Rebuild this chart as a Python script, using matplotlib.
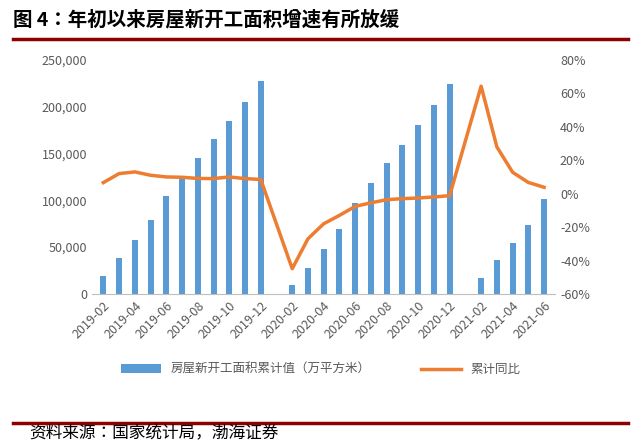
import matplotlib
matplotlib.use("Agg")
import matplotlib.pyplot as plt
from matplotlib import font_manager as fm
import numpy as np
from matplotlib.ticker import FuncFormatter

cjk = [f.name for f in fm.fontManager.ttflist if "CJK" in f.name]
pref = [n for n in cjk if n.endswith("SC")] or cjk
plt.rcParams["font.family"] = (pref[:1] if pref else []) + ["DejaVu Sans"]
plt.rcParams["axes.unicode_minus"] = False

months = [f"{y}-{m:02d}" for y in (2019, 2020, 2021) for m in range(1, 13)][1:30]
area = [19000, 38000, 58000, 79000, 105000, 124000, 145000, 165000, 185000, 205000, 227000,
        np.nan, 10000, 28000, 48000, 69000, 97000, 119000, 140000, 159000, 181000, 202000, 224000,
        np.nan, 17000, 36000, 54000, 74000, 101000]
yoy = [6.6, 12, 13, 11, 10, 9.8, 9.1, 9.0, 10, 9, 8.5,
       np.nan, -44.9, -27, -18, -13, -7.6, -5.5, -3.6, -3, -2.6, -2, -1.2,
       np.nan, 64.3, 28, 12.8, 6.7, 3.8]

fig = plt.figure(figsize=(6.41, 4.44), dpi=100)
ax = fig.add_axes([0.144, 0.338, 0.722, 0.527])
x = np.arange(len(months))
ax.bar(x, area, width=0.38, color="#5B9BD5", label="房屋新开工面积累计值（万平方米）")
ax.set_ylim(0, 250000)
ax.set_yticks(range(0, 250001, 50000))
ax.yaxis.set_major_formatter(FuncFormatter(lambda v, p: f"{int(v):,}"))
ax.set_xlim(-0.7, len(months) - 0.3)
ax.set_xticks(x[::2])
ax.set_xticklabels(months[::2], rotation=45, ha="right", rotation_mode="anchor")
for s in ["top", "right", "left"]:
    ax.spines[s].set_visible(False)
ax.spines["bottom"].set_color("#BFBFBF")
ax.tick_params(axis="both", labelsize=9, colors="#595959", length=0)

ax2 = ax.twinx()
yv = np.array(yoy)
m = ~np.isnan(yv)
ax2.plot(x[m], yv[m], color="#ED7D31", lw=2.5, label="累计同比")
ax2.set_ylim(-60, 80)
ax2.set_yticks(range(-60, 81, 20))
ax2.yaxis.set_major_formatter(FuncFormatter(lambda v, p: f"{int(v)}%"))
for s in ["top", "right", "left", "bottom"]:
    ax2.spines[s].set_visible(False)
ax2.tick_params(axis="y", labelsize=9, colors="#595959", length=0)

h1, l1 = ax.get_legend_handles_labels()
h2, l2 = ax2.get_legend_handles_labels()
fig.legend(h1 + h2, l1 + l2, loc="center", bbox_to_anchor=(0.5, 0.168), ncol=2,
           frameon=False, fontsize=9, labelcolor="#595959", handlelength=3.2, columnspacing=4)

fig.text(0.02, 0.955, "图 4：年初以来房屋新开工面积增速有所放缓", fontsize=14, fontweight="bold", va="center")
fig.add_artist(plt.Line2D([0.02, 0.98], [0.913, 0.913], color="#8B0000", lw=2.5))
fig.add_artist(plt.Line2D([0.02, 0.98], [0.048, 0.048], color="#8B0000", lw=2.5))
fig.text(0.045, 0.022, "资料来源：国家统计局，渤海证券", fontsize=12, style="italic", va="center")

fig.savefig("out.png", dpi=100)
